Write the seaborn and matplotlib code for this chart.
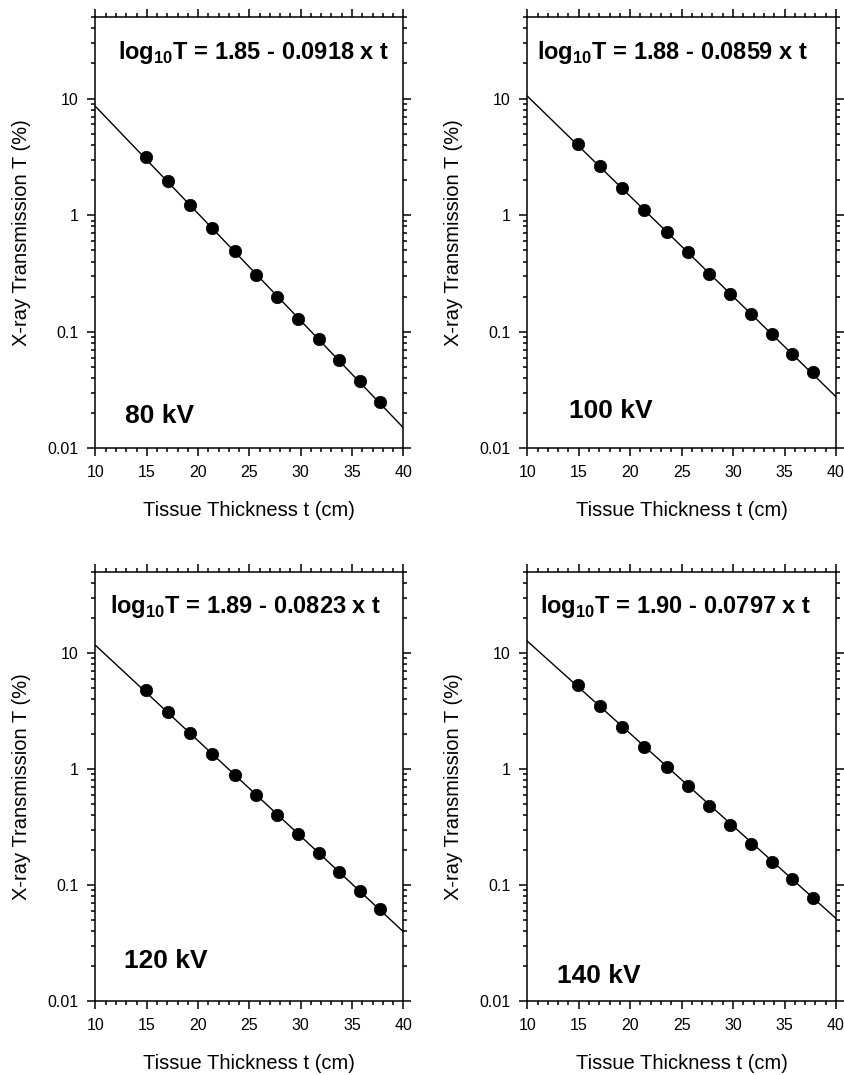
import numpy as np
import pandas as pd
import matplotlib
matplotlib.use("Agg")
import matplotlib.pyplot as plt
import matplotlib.ticker as mticker
import seaborn as sns

# tissue thickness (cm), same phantom steps for every tube voltage
thickness = [14.9, 17.05, 19.2, 21.35, 23.55, 25.6, 27.65, 29.75, 31.75, 33.75, 35.75, 37.75]

# measured x-ray transmission (%)
trans_80 = [3.15, 1.97, 1.22, 0.77, 0.49, 0.31, 0.20, 0.13, 0.086, 0.057, 0.038, 0.025]
trans_100 = [4.1, 2.62, 1.7, 1.1, 0.72, 0.48, 0.315, 0.21, 0.142, 0.096, 0.065, 0.045]
trans_120 = [4.8, 3.1, 2.05, 1.35, 0.89, 0.6, 0.4, 0.275, 0.188, 0.129, 0.089, 0.062]
trans_140 = [5.35, 3.5, 2.32, 1.55, 1.04, 0.71, 0.485, 0.332, 0.228, 0.158, 0.112, 0.078]

kv_labels = ["80 kV", "100 kV", "120 kV", "140 kV"]
# fitted line  log10 T = a - b * t
fit_a = [1.85, 1.88, 1.89, 1.90]
fit_b = [0.0918, 0.0859, 0.0823, 0.0797]

y_ticks = [0.01, 0.1, 1, 10]
y_ticklabels = ["0.01", "0.1", "1", "10"]
x_ticks = [10, 15, 20, 25, 30, 35, 40]

sns.set_style("ticks")
plt.rcParams.update({
    "font.family": ["Liberation Sans", "DejaVu Sans"],
    "mathtext.fontset": "custom",
    "mathtext.rm": "Liberation Sans",
    "mathtext.bf": "Liberation Sans:bold",
    "axes.linewidth": 1.1,
    "axes.edgecolor": "black",
    "axes.labelcolor": "black",
    "text.color": "black",
    "xtick.color": "black",
    "ytick.color": "black",
    "xtick.direction": "out",
    "ytick.direction": "out",
})

fig = plt.figure(figsize=(8.45, 10.75), dpi=100)
boxes = [
    [0.113, 0.5828, 0.3643, 0.4014],
    [0.624, 0.5828, 0.3653, 0.4014],
    [0.113, 0.0688, 0.3643, 0.3991],
    [0.624, 0.0688, 0.3653, 0.3991],
]
eq_pos = [(0.513, 0.902), (0.47, 0.902), (0.488, 0.904), (0.48, 0.904)]
kv_pos = [(0.096, 0.058), (0.136, 0.071), (0.094, 0.077), (0.097, 0.042)]

series = [trans_80, trans_100, trans_120, trans_140]

for i, box in enumerate(boxes):
    ax = fig.add_axes(box)
    df = pd.DataFrame({"t": thickness, "T": series[i]})

    # regression line over the full x range
    t_line = np.array([10.0, 40.0])
    line_df = pd.DataFrame({"t": t_line, "T": 10 ** (fit_a[i] - fit_b[i] * t_line)})
    sns.lineplot(data=line_df, x="t", y="T", color="black", lw=1.0, ax=ax)
    sns.scatterplot(data=df, x="t", y="T", color="black", s=80, edgecolor="black",
                    linewidth=0.5, zorder=3, ax=ax)

    ax.set_yscale("log")
    ax.set_xlim(10, 40)
    ax.set_ylim(0.01, 50)
    ax.set_xticks(x_ticks)
    ax.xaxis.set_minor_locator(mticker.MultipleLocator(1))
    ax.set_yticks(y_ticks)
    ax.set_yticklabels(y_ticklabels)
    ax.yaxis.set_minor_locator(mticker.LogLocator(base=10, subs=np.arange(2, 10)))
    ax.yaxis.set_minor_formatter(mticker.NullFormatter())
    ax.tick_params(which="both", top=True, right=True, width=1.1)
    ax.tick_params(which="major", length=5.5, labelsize=11.5, pad=6.5)
    ax.tick_params(which="minor", length=3)

    ax.set_xlabel("Tissue Thickness t (cm)", fontsize=14.5, labelpad=15)
    ax.set_ylabel("X-ray Transmission T (%)", fontsize=14.5, labelpad=12)

    eq = r"log$_{\mathbf{10}}$T = %.2f - %.4f x t" % (fit_a[i], fit_b[i])
    ax.text(eq_pos[i][0], eq_pos[i][1], eq, transform=ax.transAxes, ha="center",
            va="baseline", fontsize=17, fontweight="bold")
    ax.text(kv_pos[i][0], kv_pos[i][1], kv_labels[i], transform=ax.transAxes, ha="left",
            va="baseline", fontsize=19, fontweight="bold")

fig.savefig("out.png", dpi=100)
